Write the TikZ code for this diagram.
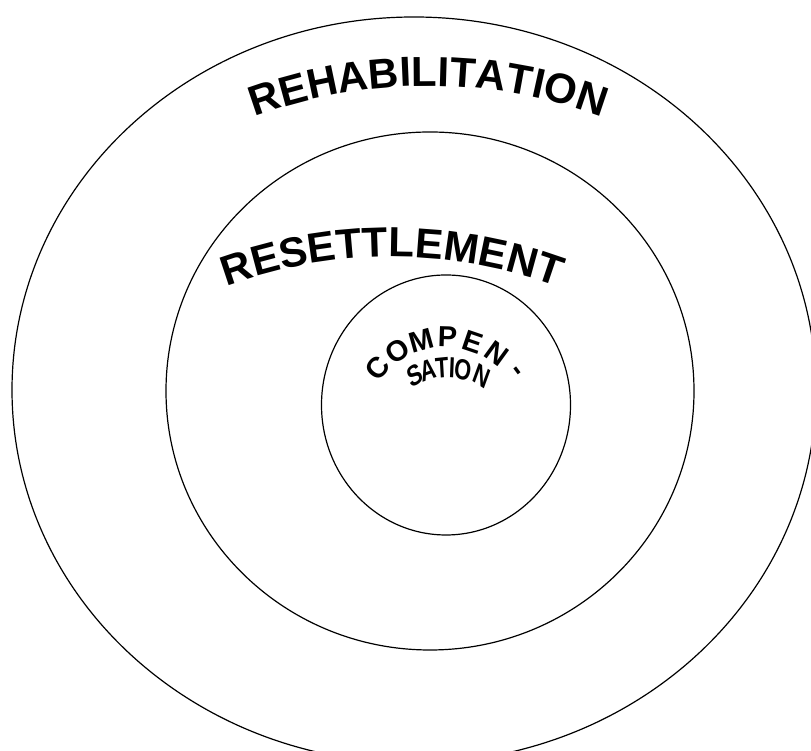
\documentclass[tikz,border=0pt]{standalone}
\usepackage{fontspec}
\setmainfont{Liberation Sans}
\usepackage{tikz}
\usetikzlibrary{shapes.geometric,decorations.text,calc}

\newcommand\bigringfont{\bfseries\fontsize{42}{50}\selectfont}
\newcommand\smallringfont{\bfseries\fontsize{29}{34}\selectfont}

\begin{document}
\begin{tikzpicture}[x=1pt,y=1pt]
  \tikzstyle{ring}=[draw,ellipse,line width=1.2pt,inner sep=0pt]
  \tikzstyle{letter}=[inner sep=0pt,font=\smallringfont]
  \useasboundingbox (0,0) rectangle (811,751);
  \node[ring,minimum width=804pt,minimum height=746pt] (outer) at (414,361) {};
  \node[ring,minimum width=528pt,minimum height=518pt] (middle) at (430,360) {};
  \node[ring,minimum width=249pt,minimum height=260pt] (inner) at (446,346) {};
  % arched labels
  \path[decorate,decoration={text along path,text align=center,
      text={|\bigringfont|REHABILITATION}}]
    (428,165) ++(125:500pt) arc[start angle=125,end angle=55,radius=500pt];
  \path[decorate,decoration={text along path,text align=center,
      text={|\bigringfont|RESETTLEMENT}}]
    (392,14) ++(125:480pt) arc[start angle=125,end angle=55,radius=480pt];
  % the word in the middle, letter by letter
  \coordinate (compc) at (445,326);
  \foreach \ch [count=\i] in {C,O,M,P,E,N,-} {
    \pgfmathsetmacro\ang{140-(\i-1)*17.2}
    \node[letter,rotate=\ang-90] (comp\i) at ($(compc)+(\ang:88pt)$) {\ch};
  }
  \coordinate (satc) at (448,305);
  \foreach \ch/\ang [count=\i] in {S/115,A/105,T/94.4,I/87,O/79,N/64} {
    \node[letter,xscale=0.75,rotate=\ang-90] (sat\i) at ($(satc)+(\ang:78pt)$) {\ch};
  }
\end{tikzpicture}
\end{document}
